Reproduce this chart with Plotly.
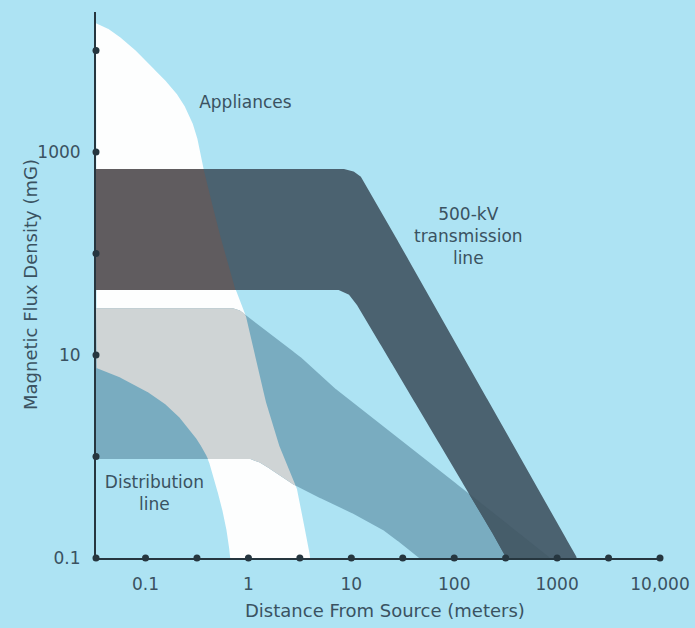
import numpy as np
import plotly.graph_objects as go

# Axis extents (meters, milligauss)
X_MIN, X_MAX = 0.033, 10000
Y_MIN, Y_MAX = 0.1, 23900

# Appliances band: outer (far) and inner (near) boundary curves
appl_outer_x = [0.033, 0.0457, 0.0611, 0.0894, 0.131, 0.175, 0.219, 0.261, 0.299, 0.327,
                0.350, 0.366, 0.512, 0.748, 0.977, 1.46, 2.05, 2.99, 4.0]
appl_outer_y = [18500, 15900, 12700, 9030, 6000, 4470, 3330, 2420, 1720, 1230,
                893, 680, 171, 43.7, 22.1, 3.6, 1.16, 0.468, 0.1]
appl_inner_x = [0.033, 0.0511, 0.0715, 0.1045, 0.150, 0.200, 0.256, 0.313, 0.366, 0.409,
                0.457, 0.512, 0.572, 0.625, 0.668]
appl_inner_y = [7.45, 6.35, 5.30, 4.32, 3.37, 2.62, 1.95, 1.49, 1.16, 0.925,
                0.614, 0.418, 0.266, 0.169, 0.1]

# 500-kV transmission line band: upper and lower edges
tl_upper_x = [0.033, 8.4, 10.9, 12.8, 14.3, 1563]
tl_upper_y = [680, 680, 635, 554, 452, 0.1]
tl_lower_x = [0.033, 7.48, 9.35, 10.9, 327]
tl_lower_y = [43.7, 43.7, 39.9, 33.3, 0.1]

# Distribution line band: upper and lower edges
dl_upper_x = [0.033, 0.70, 0.855, 0.977, 3.2, 7.8, 29.9, 153, 855]
dl_upper_y = [29.0, 29.0, 27.1, 24.2, 9.55, 4.22, 1.45, 0.40, 0.1]
dl_lower_x = [0.033, 1.045, 1.20, 1.43, 1.79, 2.56, 4.47, 7.8, 19.1, 46.8]
dl_lower_y = [0.944, 0.944, 0.906, 0.824, 0.703, 0.548, 0.408, 0.318, 0.198, 0.1]

# Axis labels and tick marks
x_tick_vals = [0.1, 1, 10, 100, 1000, 10000]
x_tick_text = ["0.1", "1", "10", "100", "1000", "10,000"]
x_dot_vals = [0.1, 0.316, 1, 3.16, 10, 31.6, 100, 316, 1000, 3162, 10000]
y_tick_vals = [0.1, 10, 1000]
y_tick_text = ["0.1", "10", "1000"]
y_dot_vals = [0.1, 1, 10, 100, 1000, 10000]

# Band labels: text, distance, flux
label_text = ["Appliances", "500-kV<br>transmission<br>line", "Distribution<br>line"]
label_x = [0.935, 137, 0.122]
label_y = [2970, 142, 0.417]

BG = "#ade3f3"
WHITE = "#fdfefe"
DL_COL = "#79acc0"       # distribution band over background
DL_APPL = "#cfd4d5"      # distribution band over appliances
TL_COL = "#4b6270"       # transmission band over background
TL_APPL = "#605c5f"      # transmission band over appliances
TL_DL = "#465d6a"        # transmission band over distribution band
TXT = "#3a5261"
AX = "#26363f"

# Log-space sampling of flux levels
ly = np.linspace(np.log10(Y_MIN) - 0.02, np.log10(Y_MAX), 4000)
lx_min = np.log10(X_MIN)


def x_on_edge(ex, ey):
    """Distance (log) on a descending edge at each sampled flux level."""
    lx = np.log10(ex)[::-1]
    lyy = np.log10(ey)[::-1]
    return np.interp(ly, lyy, lx)


def band(lower_x, lower_y, upper_x, upper_y):
    left = x_on_edge(lower_x, lower_y)
    left = np.where(ly >= np.log10(lower_y[0]), lx_min, left)
    right = x_on_edge(upper_x, upper_y)
    return left, right


def polygon(left, right):
    idx = np.where(right - left > 1e-6)[0]
    xs = np.concatenate([right[idx], left[idx][::-1]])
    ys = np.concatenate([ly[idx], ly[idx][::-1]])
    return 10 ** xs, 10 ** ys


def overlap(a, b):
    return np.maximum(a[0], b[0]), np.minimum(a[1], b[1])


appl = band(appl_inner_x, appl_inner_y, appl_outer_x, appl_outer_y)
tl = band(tl_lower_x, tl_lower_y, tl_upper_x, tl_upper_y)
dl = band(dl_lower_x, dl_lower_y, dl_upper_x, dl_upper_y)

layers = [
    (appl, WHITE),
    (dl, DL_COL),
    (overlap(dl, appl), DL_APPL),
    (tl, TL_COL),
    (overlap(tl, appl), TL_APPL),
    (overlap(tl, dl), TL_DL),
]

fig = go.Figure()
for reg, col in layers:
    px, py = polygon(*reg)
    fig.add_trace(go.Scatter(x=px, y=py, mode="lines", fill="toself",
                             fillcolor=col, line=dict(width=0, color=col),
                             hoverinfo="skip"))

# Tick dots along both axes
fig.add_trace(go.Scatter(x=x_dot_vals, y=[Y_MIN] * len(x_dot_vals), mode="markers",
                         marker=dict(size=7, color=AX), cliponaxis=False, hoverinfo="skip"))
fig.add_trace(go.Scatter(x=[X_MIN] * len(y_dot_vals), y=y_dot_vals, mode="markers",
                         marker=dict(size=7, color=AX), cliponaxis=False, hoverinfo="skip"))

# Band labels
fig.add_trace(go.Scatter(x=label_x, y=label_y, mode="text", text=label_text,
                         textposition="middle center",
                         textfont=dict(family="DejaVu Sans", size=17, color=TXT),
                         hoverinfo="skip"))

fig.update_layout(
    width=695, height=628,
    margin=dict(l=96, r=35, t=12, b=70),
    paper_bgcolor=BG, plot_bgcolor=BG,
    showlegend=False,
    font=dict(family="DejaVu Sans", size=17, color=TXT),
    annotations=[
        dict(text="Distance From Source (meters)", xref="paper", yref="paper",
             x=0.512, y=-0.097, xanchor="center", yanchor="middle", showarrow=False,
             font=dict(size=18, color=TXT)),
        dict(text="Magnetic Flux Density (mG)", xref="paper", yref="paper",
             x=-0.117, y=0.5, xanchor="center", yanchor="middle", showarrow=False,
             textangle=-90, font=dict(size=18, color=TXT)),
    ],
)
fig.update_xaxes(type="log", range=[np.log10(X_MIN), np.log10(X_MAX)],
                 tickvals=x_tick_vals, ticktext=x_tick_text, automargin=False,
                 showgrid=False, zeroline=False, showline=True,
                 linecolor=AX, linewidth=2, ticks="outside", ticklen=10,
                 tickcolor="rgba(0,0,0,0)", tickfont=dict(size=17, color=TXT))
fig.update_yaxes(type="log", range=[np.log10(Y_MIN), np.log10(Y_MAX)],
                 tickvals=y_tick_vals, ticktext=y_tick_text, automargin=False,
                 showgrid=False, zeroline=False, showline=True,
                 linecolor=AX, linewidth=2, ticks="outside", ticklen=10,
                 tickcolor="rgba(0,0,0,0)", tickfont=dict(size=17, color=TXT))

fig.write_html("out.html")
